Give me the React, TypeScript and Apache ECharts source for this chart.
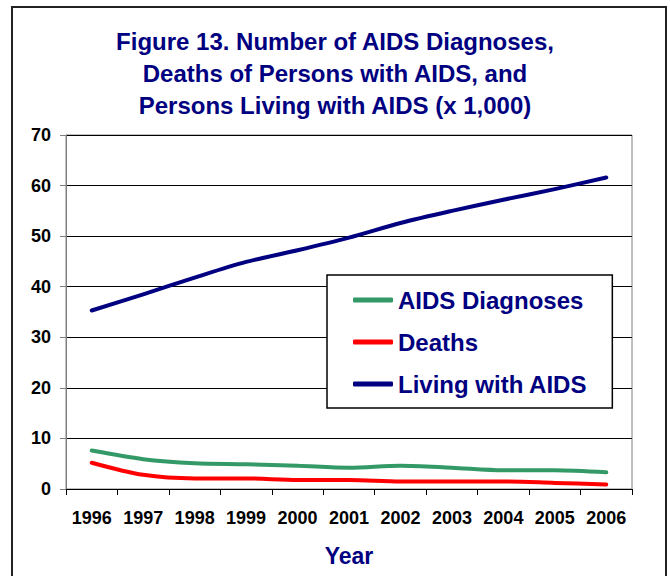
import React, { useEffect, useRef } from "react";
import * as echarts from "echarts";

const years = ["1996", "1997", "1998", "1999", "2000", "2001", "2002", "2003", "2004", "2005", "2006"];
const diagnoses = [7.6, 5.9, 5.1, 4.9, 4.6, 4.2, 4.6, 4.2, 3.7, 3.7, 3.3];
const deaths = [5.2, 2.8, 2.1, 2.1, 1.8, 1.8, 1.5, 1.5, 1.5, 1.2, 0.9];
const living = [35.3, 38.5, 41.8, 44.9, 47.2, 49.7, 52.6, 55.0, 57.2, 59.3, 61.6];
const seriesNames = ["AIDS Diagnoses", "Deaths", "Living with AIDS"];
const seriesColors = ["#339966", "#FF0000", "#000080"];
const titleText = "Figure 13. Number of AIDS Diagnoses,\nDeaths of Persons with AIDS, and\nPersons Living with AIDS (x 1,000)";
const xAxisTitle = "Year";

const FONT = "'Liberation Sans', Arial, sans-serif";

export default function App() {
  const ref = useRef<HTMLDivElement>(null);
  useEffect(() => {
    if (!ref.current) return;
    const chart = echarts.init(ref.current, undefined, { renderer: "svg" });
    const values = [diagnoses, deaths, living];
    chart.setOption({
      animation: false,
      backgroundColor: "#ffffff",
      title: {
        text: titleText,
        left: "center",
        top: 25,
        padding: [0, 0, 0, 6],
        textStyle: {
          fontFamily: FONT,
          fontSize: 24,
          fontWeight: "bold",
          color: "#000080",
          lineHeight: 32,
        },
      },
      graphic: [
        {
          type: "rect",
          shape: { x: 12, y: 7, width: 654, height: 620 },
          style: { fill: "none", stroke: "#222222", lineWidth: 2 },
          z: 100,
        },
      ],
      legend: {
        orient: "vertical",
        left: 327,
        top: 275,
        padding: [13, 25, 12, 26],
        itemGap: 18,
        itemWidth: 40,
        itemHeight: 5,
        icon: "roundRect",
        backgroundColor: "#ffffff",
        borderColor: "#000000",
        borderWidth: 1.5,
        borderRadius: 0,
        data: seriesNames,
        textStyle: {
          fontFamily: FONT,
          fontSize: 24,
          fontWeight: "bold",
          color: "#000080",
        },
        z: 10,
      },
      grid: {
        left: 66,
        right: 38,
        top: 135,
        bottom: 87,
        show: true,
        borderColor: "#808080",
        borderWidth: 1,
        backgroundColor: "transparent",
      },
      xAxis: {
        type: "category",
        data: years,
        boundaryGap: true,
        name: xAxisTitle,
        nameLocation: "middle",
        nameGap: 55,
        nameTextStyle: {
          fontFamily: FONT,
          fontSize: 23,
          fontWeight: "bold",
          color: "#000080",
        },
        axisLine: { show: true, lineStyle: { color: "#000000", width: 1 } },
        axisTick: { show: true, length: 6, interval: 0, lineStyle: { color: "#000000" } },
        axisLabel: {
          interval: 0,
          margin: 20,
          fontFamily: FONT,
          fontSize: 18,
          fontWeight: "bold",
          color: "#000000",
        },
        splitLine: { show: false },
      },
      yAxis: {
        type: "value",
        min: 0,
        max: 70,
        interval: 10,
        axisLine: { show: true, lineStyle: { color: "#808080", width: 1 } },
        axisTick: { show: true, length: 6, lineStyle: { color: "#808080" } },
        axisLabel: {
          margin: 15,
          fontFamily: FONT,
          fontSize: 18,
          fontWeight: "bold",
          color: "#000000",
        },
        splitLine: { show: true, lineStyle: { color: "#000000", width: 1 } },
      },
      series: seriesNames.map((name, i) => ({
        name,
        type: "line",
        data: values[i],
        smooth: 0.3,
        symbol: "none",
        color: seriesColors[i],
        lineStyle: { color: seriesColors[i], width: 4, cap: "round", join: "round" },
        z: 3,
      })),
    });
    return () => chart.dispose();
  }, []);
  return (
    <div
      ref={ref}
      style={{ position: "fixed", left: 0, top: 0, width: 670, height: 576 }}
    />
  );
}
